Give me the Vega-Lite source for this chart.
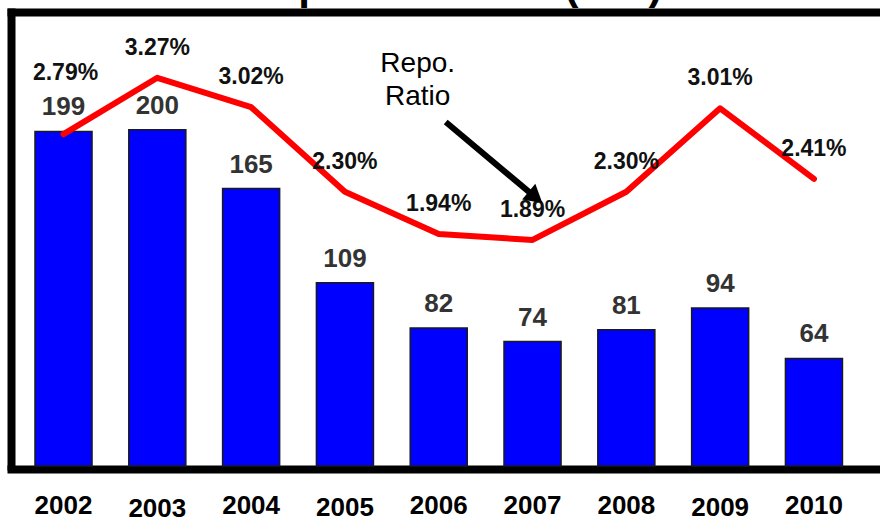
{
  "$schema": "https://vega.github.io/schema/vega-lite/v6.json",
  "autosize": "none",
  "width": 869,
  "height": 454,
  "padding": {"left": 11, "top": 12, "right": 0, "bottom": 53},
  "background": "white",
  "config": {"view": {"stroke": null}, "font": "Liberation Sans"},
  "title": {"text": "Repossessions (000)", "fontSize": 42, "font": "Liberation Sans", "fontWeight": "bold", "color": "black", "offset": 4, "dx": 8},
  "datasets": {
    "main": [
      {"year": "2002", "count": 199, "ratio": 2.79, "pct": "2.79%"},
      {"year": "2003", "count": 200, "ratio": 3.27, "pct": "3.27%"},
      {"year": "2004", "count": 165, "ratio": 3.02, "pct": "3.02%"},
      {"year": "2005", "count": 109, "ratio": 2.30, "pct": "2.30%"},
      {"year": "2006", "count": 82, "ratio": 1.94, "pct": "1.94%"},
      {"year": "2007", "count": 74, "ratio": 1.89, "pct": "1.89%"},
      {"year": "2008", "count": 81, "ratio": 2.30, "pct": "2.30%"},
      {"year": "2009", "count": 94, "ratio": 3.01, "pct": "3.01%"},
      {"year": "2010", "count": 64, "ratio": 2.41, "pct": "2.41%"}
    ],
    "arrow": [{"from": "2006", "to": "2007", "y1": 2.894, "y2": 2.252}],
    "note": [{"year": "2006", "v": 3.319}]
  },
  "data": {"name": "main"},
  "resolve": {"scale": {"y": "independent"}, "axis": {"x": "independent", "y": "independent"}},
  "layer": [
    {
      "mark": {"type": "bar", "fill": "#0000ff", "stroke": "#1a1a1a", "strokeWidth": 1.5},
      "encoding": {
        "x": {"field": "year", "type": "nominal", "sort": null,
          "scale": {"paddingInner": 0.392, "paddingOuter": 0.328, "align": 0.39},
          "axis": {"orient": "bottom", "title": null, "offset": 3, "domain": true, "domainWidth": 8, "domainColor": "black", "domainCap": "square", "ticks": false, "grid": false, "labelAngle": 0, "labelFont": "Liberation Sans", "labelFontSize": 26, "labelFontWeight": "bold", "labelColor": "black", "labelBaseline": "top",
            "labelPadding": {"expr": "datum.value == '2003' ? 26 : (datum.value == '2005' || datum.value == '2009') ? 25 : 23"}}},
        "y": {"field": "count", "type": "quantitative", "scale": {"domain": [0, 270], "nice": false},
          "axis": {"orient": "left", "title": null, "domain": true, "domainWidth": 8, "domainColor": "black", "domainCap": "square", "ticks": false, "labels": false, "grid": false}}
      }
    },
    {
      "mark": {"type": "text", "baseline": "alphabetic", "align": "center", "dy": -16, "font": "Liberation Sans", "fontSize": 26, "fontWeight": "bold", "fill": "#333333"},
      "encoding": {
        "x": {"field": "year", "type": "nominal", "sort": null, "axis": null},
        "y": {"field": "count", "type": "quantitative", "scale": {"domain": [0, 270], "nice": false}, "axis": null},
        "text": {"field": "count", "type": "quantitative"}
      }
    },
    {
      "mark": {"type": "line", "stroke": "#ff0000", "strokeWidth": 6, "strokeJoin": "round", "strokeCap": "round"},
      "encoding": {
        "x": {"field": "year", "type": "nominal", "sort": null,
          "axis": {"orient": "top", "title": null, "domain": true, "domainWidth": 8, "domainColor": "black", "domainCap": "square", "ticks": false, "labels": false, "grid": false}},
        "y": {"field": "ratio", "type": "quantitative", "scale": {"domain": [-0.034, 3.83], "nice": false, "zero": false}, "axis": null}
      }
    },
    {
      "transform": [{"filter": "datum.year != '2002'"}],
      "mark": {"type": "text", "baseline": "alphabetic", "align": "center", "dy": -23, "font": "Liberation Sans", "fontSize": 23, "fontWeight": "bold", "fill": "#111111"},
      "encoding": {
        "x": {"field": "year", "type": "nominal", "sort": null, "axis": null},
        "y": {"field": "ratio", "type": "quantitative", "scale": {"domain": [-0.034, 3.83], "nice": false, "zero": false}, "axis": null},
        "text": {"field": "pct", "type": "nominal"}
      }
    },
    {
      "transform": [{"filter": "datum.year == '2002'"}],
      "mark": {"type": "text", "baseline": "alphabetic", "align": "center", "dy": -54, "dx": 2, "font": "Liberation Sans", "fontSize": 23, "fontWeight": "bold", "fill": "#111111"},
      "encoding": {
        "x": {"field": "year", "type": "nominal", "sort": null, "axis": null},
        "y": {"field": "ratio", "type": "quantitative", "scale": {"domain": [-0.034, 3.83], "nice": false, "zero": false}, "axis": null},
        "text": {"field": "pct", "type": "nominal"}
      }
    },
    {
      "data": {"name": "arrow"},
      "mark": {"type": "rule", "stroke": "black", "strokeWidth": 6, "xOffset": 7, "x2Offset": 3},
      "encoding": {
        "x": {"field": "from", "type": "nominal", "axis": null},
        "x2": {"field": "to"},
        "y": {"field": "y1", "type": "quantitative", "scale": {"domain": [-0.034, 3.83], "nice": false, "zero": false}, "axis": null},
        "y2": {"field": "y2"}
      }
    },
    {
      "data": {"name": "arrow"},
      "mark": {"type": "point", "shape": "triangle-up", "filled": true, "fill": "black", "stroke": null, "opacity": 1, "size": 420, "angle": 130, "xOffset": 3},
      "encoding": {
        "x": {"field": "to", "type": "nominal", "axis": null},
        "y": {"field": "y2", "type": "quantitative", "scale": {"domain": [-0.034, 3.83], "nice": false, "zero": false}, "axis": null}
      }
    },
    {
      "data": {"name": "note"},
      "mark": {"type": "text", "text": ["Repo.", "Ratio"], "baseline": "alphabetic", "align": "center", "dx": -21, "lineHeight": 33, "font": "Liberation Sans", "fontSize": 28, "fill": "black"},
      "encoding": {
        "x": {"field": "year", "type": "nominal", "axis": null},
        "y": {"field": "v", "type": "quantitative", "scale": {"domain": [-0.034, 3.83], "nice": false, "zero": false}, "axis": null}
      }
    }
  ]
}
